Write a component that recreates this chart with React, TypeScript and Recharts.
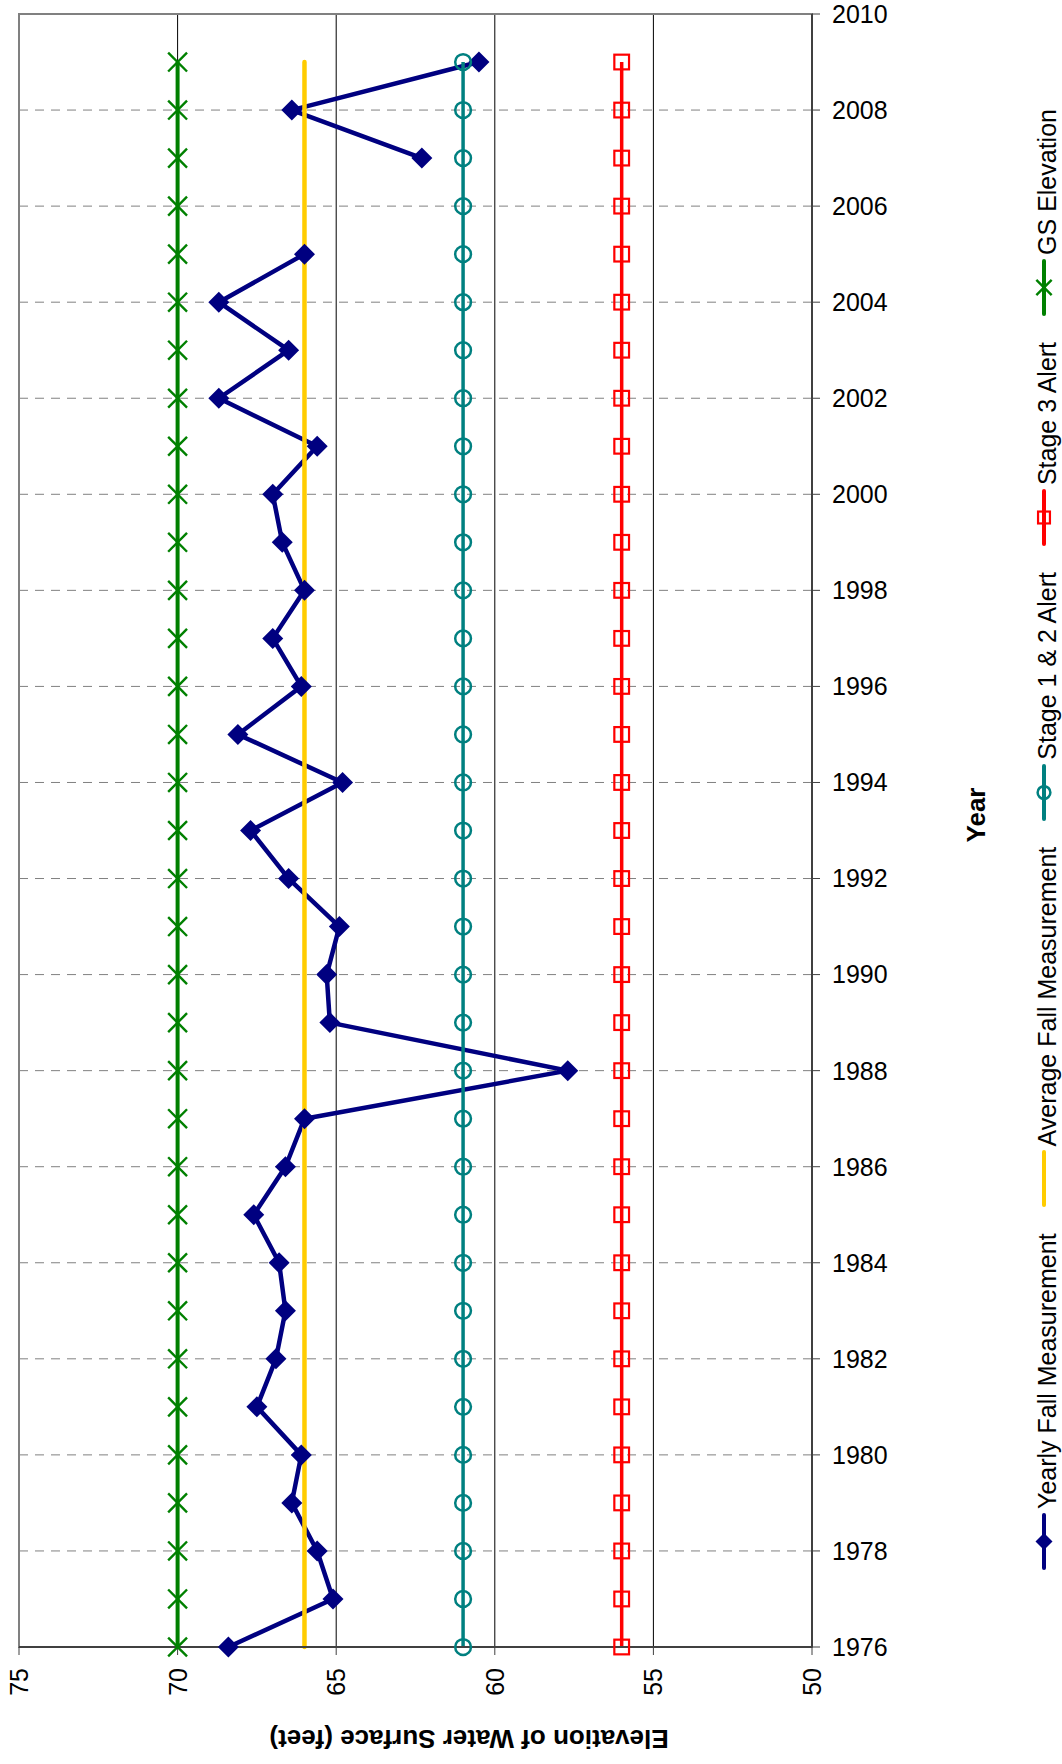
import { CartesianGrid, Legend, Line, LineChart, ReferenceArea, XAxis, YAxis } from "recharts"

const FONT = '"Liberation Sans", Arial, sans-serif'

const years = [
  1976, 1977, 1978, 1979, 1980, 1981, 1982, 1983, 1984, 1985, 1986, 1987, 1988, 1989, 1990, 1991, 1992,
  1993, 1994, 1995, 1996, 1997, 1998, 1999, 2000, 2001, 2002, 2003, 2004, 2005, 2006, 2007, 2008, 2009,
]
const yearlyFall = [
  68.4, 65.1, 65.6, 66.4, 66.1, 67.5, 66.9, 66.6, 66.8, 67.6, 66.6, 66.0, 57.7, 65.2, 65.3, 64.9, 66.5,
  67.7, 64.8, 68.1, 66.1, 67.0, 66.0, 66.7, 67.0, 65.6, 68.7, 66.5, 68.7, 66.0, null, 62.3, 66.4, 60.5,
]
const averageFall = 66.0
const stage12Alert = 61
const stage3Alert = 56
const gsElevation = 70

const yearTicks = [1976, 1978, 1980, 1982, 1984, 1986, 1988, 1990, 1992, 1994, 1996, 1998, 2000, 2002, 2004, 2006, 2008, 2010]
const gridYears = [1978, 1980, 1982, 1984, 1986, 1988, 1990, 1992, 1994, 1996, 1998, 2000, 2002, 2004, 2006, 2008]
const elevTicks = [75, 70, 65, 60, 55, 50]
const gridElev = [70, 65, 60, 55]

const seriesNames = ["Yearly Fall Measurement", "Average Fall Measurement", "Stage 1 & 2 Alert", "Stage 3 Alert", "GS Elevation"]

const rows = years.map((year, i) => ({
  year,
  yearly: yearlyFall[i],
  average: averageFall,
  stage12: stage12Alert,
  stage3: stage3Alert,
  gs: gsElevation,
}))

// the vertical layout joins across gaps, so split the yearly series where a year is missing
const yearlySegments: { year: number; yearly: number }[][] = []
let current: { year: number; yearly: number }[] = []
rows.forEach((r) => {
  if (r.yearly == null) {
    if (current.length) yearlySegments.push(current)
    current = []
  } else {
    current.push({ year: r.year, yearly: r.yearly })
  }
})
if (current.length) yearlySegments.push(current)

const NAVY = "#000080"
const GOLD = "#FFCC00"
const TEAL = "#008080"
const RED = "#FF0000"
const GREEN = "#008000"

function marker(kind: string, cx: number, cy: number, s: number) {
  if (kind === "diamond")
    return <polygon points={`${cx},${cy - s} ${cx + s},${cy} ${cx},${cy + s} ${cx - s},${cy}`} fill={NAVY} />
  if (kind === "circle") return <circle cx={cx} cy={cy} r={s * 0.75} fill="none" stroke={TEAL} strokeWidth={2.5} />
  if (kind === "square")
    return <rect x={cx - s * 0.7} y={cy - s * 0.7} width={s * 1.4} height={s * 1.4} fill="none" stroke={RED} strokeWidth={2.2} />
  if (kind === "cross")
    return (
      <g stroke={GREEN} strokeWidth={2.4}>
        <line x1={cx - s * 0.9} y1={cy - s * 0.9} x2={cx + s * 0.9} y2={cy + s * 0.9} />
        <line x1={cx - s * 0.9} y1={cy + s * 0.9} x2={cx + s * 0.9} y2={cy - s * 0.9} />
      </g>
    )
  return null
}

const makeDot = (kind: string) => (props: any) => {
  const { cx, cy, index } = props
  if (cx == null || cy == null || isNaN(cx) || isNaN(cy)) return <g key={`e-${index}`} />
  return <g key={`${kind}-${index}`}>{marker(kind, cx, cy, 10.5)}</g>
}

const legendItems = [
  { name: seriesNames[0], color: NAVY, kind: "diamond" },
  { name: seriesNames[1], color: GOLD, kind: "none" },
  { name: seriesNames[2], color: TEAL, kind: "circle" },
  { name: seriesNames[3], color: RED, kind: "square" },
  { name: seriesNames[4], color: GREEN, kind: "cross" },
]

function RotatedLegend() {
  return (
    <div
      style={{
        position: "absolute",
        left: 29,
        top: 1570,
        height: 30,
        width: 1600,
        transform: "rotate(-90deg)",
        transformOrigin: "0 0",
        display: "flex",
        alignItems: "center",
        gap: 26,
        whiteSpace: "nowrap",
        fontFamily: FONT,
        fontSize: 25,
        color: "#000",
      }}
    >
      {legendItems.map((it) => (
        <div key={it.name} style={{ display: "flex", alignItems: "center" }}>
          <svg width={57} height={30} style={{ display: "block" }}>
            <line x1={2} y1={15} x2={55} y2={15} stroke={it.color} strokeWidth={4} strokeLinecap="round" />
            {marker(it.kind, 28.5, 15, 8.5)}
          </svg>
          <span style={{ marginLeft: 4, position: "relative", top: 3 }}>{it.name}</span>
        </div>
      ))}
    </div>
  )
}

function ElevTick(props: any) {
  const { x, y, payload } = props
  return (
    <text
      x={x}
      y={y}
      transform={`rotate(-90 ${x} ${y})`}
      textAnchor="end"
      dominantBaseline="central"
      fontSize={25}
      fontFamily={FONT}
      fill="#000"
    >
      {payload.value}
    </text>
  )
}

function ElevTitle(props: any) {
  const vb = props.viewBox ?? { x: 19, y: 1647 }
  const cx = vb.x + 450
  const cy = vb.y + 92
  return (
    <text
      x={cx}
      y={cy}
      transform={`rotate(180 ${cx} ${cy})`}
      textAnchor="middle"
      dominantBaseline="central"
      fontSize={26}
      fontWeight="bold"
      fontFamily={FONT}
      fill="#000"
    >
      Elevation of Water Surface (feet)
    </text>
  )
}

function YearTitle(props: any) {
  const vb = props.viewBox ?? { x: 812, y: 14 }
  const cx = vb.x + 164
  const cy = vb.y + 801
  return (
    <text
      x={cx}
      y={cy}
      transform={`rotate(-90 ${cx} ${cy})`}
      textAnchor="middle"
      dominantBaseline="central"
      fontSize={26}
      fontWeight="bold"
      fontFamily={FONT}
      fill="#000"
    >
      Year
    </text>
  )
}

export default function App() {
  return (
    <div style={{ position: "absolute", left: 0, top: 0, width: 1062, height: 1764, background: "#fff" }}>
      <LineChart
        width={1062}
        height={1764}
        data={rows}
        layout="vertical"
        margin={{ top: 14, right: 0, bottom: 0, left: 19 }}
      >
        <CartesianGrid horizontal={false} verticalValues={gridElev} stroke="#000" strokeWidth={1} />
        <CartesianGrid vertical={false} horizontalValues={gridYears} stroke="#808080" strokeDasharray="9 7" />
        <ReferenceArea x1={75} x2={50} y1={1976} y2={2010} fill="none" stroke="#808080" strokeWidth={2} />
        <XAxis
          type="number"
          domain={[50, 75]}
          reversed
          ticks={elevTicks}
          interval={0}
          tick={<ElevTick />}
          tickSize={8}
          tickMargin={13}
          height={117}
          axisLine={{ stroke: "#404040", strokeWidth: 2 }}
          tickLine={{ stroke: "#404040" }}
          label={ElevTitle}
        />
        <YAxis
          type="number"
          dataKey="year"
          orientation="right"
          domain={[1976, 2010]}
          reversed
          ticks={yearTicks}
          interval={0}
          width={250}
          tickSize={8}
          tickMargin={12}
          tick={{ fill: "#000", fontSize: 25, fontFamily: FONT }}
          axisLine={{ stroke: "#404040", strokeWidth: 2 }}
          tickLine={{ stroke: "#404040" }}
          label={YearTitle}
        />
        <Legend
          layout="horizontal"
          align="center"
          verticalAlign="middle"
          wrapperStyle={{ left: 1000, top: 0, width: 62, height: 1764 }}
          content={<RotatedLegend />}
        />
        {yearlySegments.map((seg, i) => (
          <Line
            key={`yearly-${i}`}
            data={seg}
            dataKey="yearly"
            name={seriesNames[0]}
            type="linear"
            stroke={NAVY}
            strokeWidth={4.5}
            strokeLinejoin="round"
            dot={makeDot("diamond")}
            isAnimationActive={false}
          />
        ))}
        <Line
          dataKey="average"
          name={seriesNames[1]}
          type="linear"
          stroke={GOLD}
          strokeWidth={4.5}
          strokeLinecap="round"
          dot={false}
          isAnimationActive={false}
        />
        <Line
          dataKey="stage12"
          name={seriesNames[2]}
          type="linear"
          stroke={TEAL}
          strokeWidth={3.5}
          dot={makeDot("circle")}
          isAnimationActive={false}
        />
        <Line
          dataKey="stage3"
          name={seriesNames[3]}
          type="linear"
          stroke={RED}
          strokeWidth={3.5}
          dot={makeDot("square")}
          isAnimationActive={false}
        />
        <Line
          dataKey="gs"
          name={seriesNames[4]}
          type="linear"
          stroke={GREEN}
          strokeWidth={4}
          dot={makeDot("cross")}
          isAnimationActive={false}
        />
      </LineChart>
    </div>
  )
}
